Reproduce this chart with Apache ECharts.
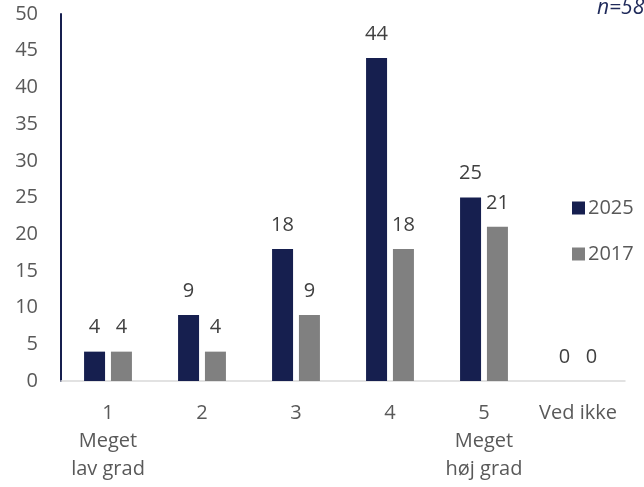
<!DOCTYPE html>
<html><head><meta charset="utf-8">
<script src="https://cdn.jsdelivr.net/npm/echarts@6/dist/echarts.min.js"></script>
<style>html,body{margin:0;padding:0;background:#fff}#c{width:644px;height:487px}</style>
</head><body><div id="c"></div>
<script>
const categories = ["1\nMeget\nlav grad", "2", "3", "4", "5\nMeget\nhøj grad", "Ved ikke"];
const series2025 = [4, 9, 18, 44, 25, 0];
const series2017 = [4, 4, 9, 18, 21, 0];
const yTicks = {min: 0, max: 50, interval: 5};
const noteText = "n=58";

const FONT = "Open Sans";
const FS = 20;
const chart = echarts.init(document.getElementById('c'), null, {renderer: 'canvas'});
const labelCfg = {show: true, position: 'top', distance: 14, color: '#404040', fontSize: FS, fontFamily: FONT};
chart.setOption({
  animation: false,
  textStyle: {fontFamily: FONT},
  grid: {left: 61, right: 19, top: 14, bottom: 106, containLabel: false},
  legend: {
    orient: 'vertical', left: 567, top: 193, itemWidth: 13, itemHeight: 13, itemGap: 26,
    icon: 'rect', textStyle: {fontSize: FS, color: '#595959', fontFamily: FONT, padding: [0,0,0,-2]},
    data: ['2025', '2017']
  },
  xAxis: {
    type: 'category', data: categories,
    axisLine: {show: true, lineStyle: {color: '#d9d9d9', width: 1.5}},
    axisTick: {show: false},
    axisLabel: {color: '#595959', fontSize: FS, lineHeight: 28, margin: 18, interval: 0, fontFamily: FONT}
  },
  yAxis: {
    type: 'value', min: yTicks.min, max: yTicks.max, interval: yTicks.interval,
    axisLine: {show: true, lineStyle: {color: '#161f4f', width: 2}},
    axisTick: {show: false},
    splitLine: {show: false},
    axisLabel: {color: '#595959', fontSize: FS, margin: 23, fontFamily: FONT}
  },
  series: [
    {name: '2025', type: 'bar', data: series2025, barWidth: 21, barGap: '28%',
     itemStyle: {color: '#161f4f'}, label: labelCfg},
    {name: '2017', type: 'bar', data: series2017, barWidth: 21,
     itemStyle: {color: '#808080'}, label: labelCfg}
  ],
  graphic: [{type: 'text', left: 597, top: -2, style: {text: noteText, font: 'italic 21px ' + FONT, fill: '#1f2a5a'}}]
});
</script></body></html>
